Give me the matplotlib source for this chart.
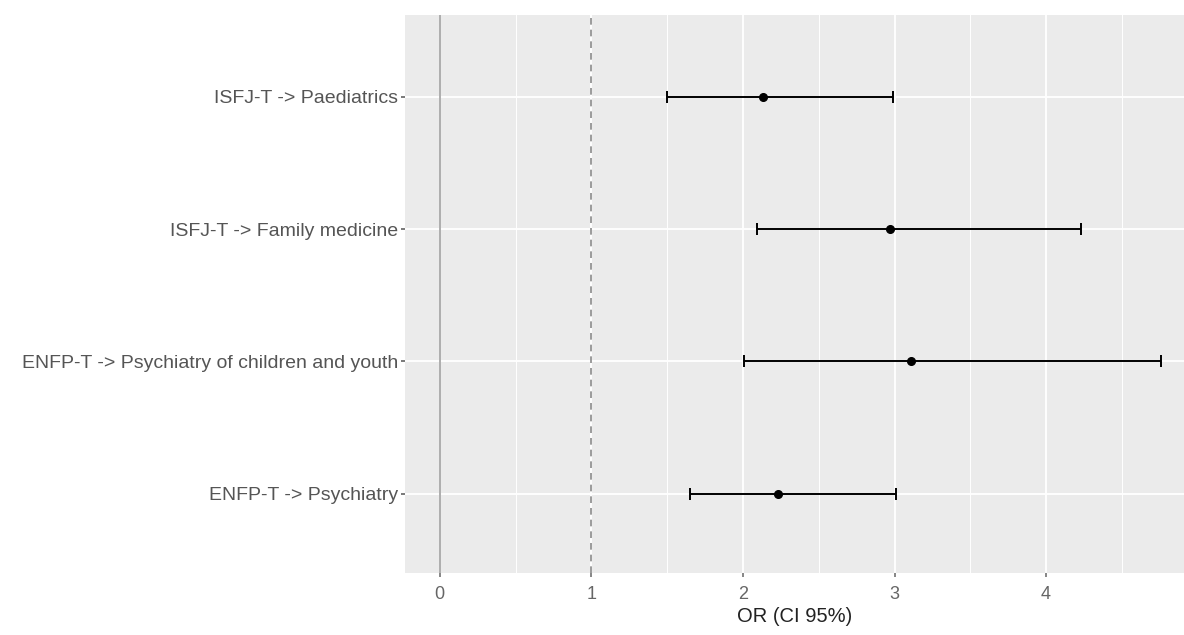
import matplotlib.pyplot as plt
from matplotlib.ticker import MultipleLocator

plt.rcParams['font.family'] = ['Liberation Sans', 'DejaVu Sans']

# Odds ratios with 95% CI (bottom to top)
labels = ['ENFP-T -> Psychiatry',
          'ENFP-T -> Psychiatry of children and youth',
          'ISFJ-T -> Family medicine',
          'ISFJ-T -> Paediatrics']
odds = [2.23, 3.11, 2.97, 2.13]
ci_low = [1.65, 2.01, 2.09, 1.50]
ci_high = [3.01, 4.76, 4.23, 2.99]

fig = plt.figure(figsize=(11.84, 6.35), dpi=100)
ax = fig.add_axes([0.342, 0.0976, 0.658, 0.8788])
ax.set_facecolor('#ebebeb')

ypos = list(range(1, len(labels) + 1))
err = [[o - l for o, l in zip(odds, ci_low)], [h - o for o, h in zip(odds, ci_high)]]
ax.errorbar(odds, ypos, xerr=err, fmt='o', color='black', ms=5.5,
            elinewidth=1.4, capsize=4.5, capthick=1.4, zorder=5)

ax.axvline(0, color='#a0a0a0', lw=1.2, zorder=3)
ax.axvline(1, color='#8a8a8a', lw=1.2, ls=(0, (4, 3)), zorder=3)

ax.set_xlim(-0.23, 4.91)
ax.set_ylim(0.4, 4.62)
ax.xaxis.set_major_locator(MultipleLocator(1))
ax.xaxis.set_minor_locator(MultipleLocator(0.5))
ax.set_yticks(ypos)
ax.set_yticklabels(labels)

ax.grid(which='major', color='white', lw=1.3)
ax.grid(which='minor', axis='x', color='white', lw=0.7)
ax.set_axisbelow(True)
for s in ax.spines.values():
    s.set_visible(False)
ax.tick_params(axis='y', which='major', colors='#555555', labelsize=14, length=3,
               width=1.1, pad=2)
ax.tick_params(axis='x', which='major', colors='#666666', labelsize=13, length=3,
               width=1.1, pad=6)
ax.tick_params(which='minor', length=0)

ax.set_xlabel('OR (CI 95%)', fontsize=14.5, color='#222222', labelpad=3)

fig.savefig('out.png', dpi=100)
